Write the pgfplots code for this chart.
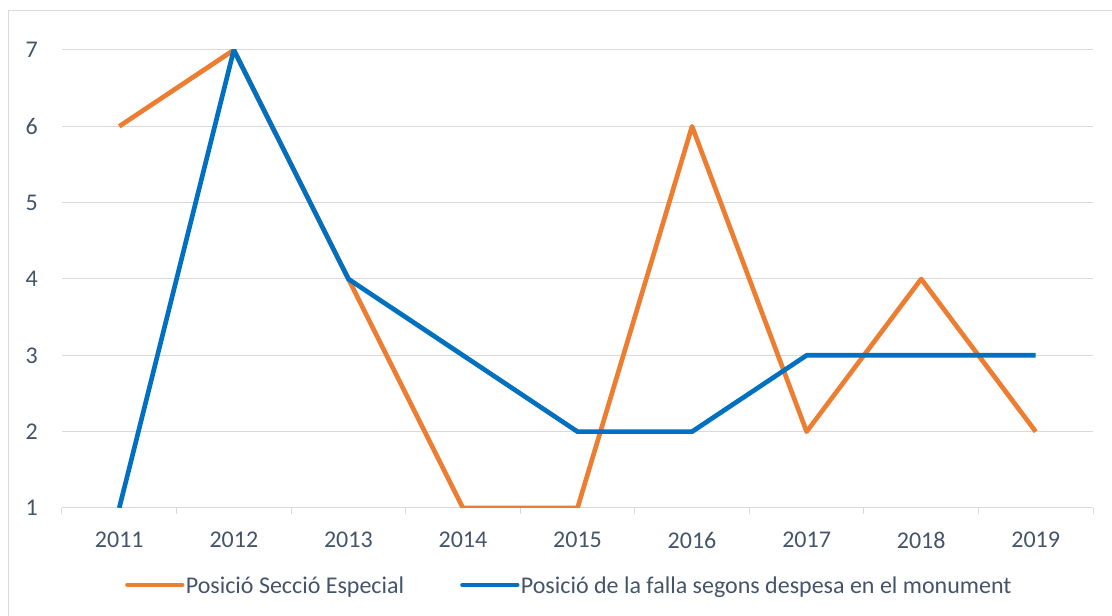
\documentclass[border=0pt]{standalone}
\usepackage{pgfplots}
\pgfplotsset{compat=1.18}
\usepackage{fontspec}
\setmainfont{Carlito}
\definecolor{serieOrange}{HTML}{ED7D31}
\definecolor{serieBlue}{HTML}{0070C0}
\definecolor{gridGray}{HTML}{D9D9D9}
\definecolor{textSlate}{HTML}{44546A}

\begin{document}
\begin{tikzpicture}[x=0.75pt,y=0.75pt]
% page = 1112 x 616 px, axis box lower left at px (62,508)
\useasboundingbox (-62,-108) rectangle (1050,508);
% outer chart frame
\draw[gridGray, line width=0.75pt] (-53,-120) -- (-53,497) -- (1060,497);
\begin{axis}[
    at={(0,0)}, anchor=south west,
    scale only axis,
    width=773.25pt,
    height=343.5pt,
    xmin=-0.5, xmax=8.5,
    ymin=1, ymax=7,
    xtick={0,...,8},
    xticklabels={2011,2012,2013,2014,2015,2016,2017,2018,2019},
    minor xtick={-0.5,0.5,...,8.5},
    ytick={1,...,7},
    axis x line*=bottom,
    axis y line*=left,
    y axis line style={draw=none},
    x axis line style={gridGray, line width=0.75pt},
    major tick length=0pt,
    minor tick length=4.5pt,
    tick align=outside,
    minor tick style={gridGray, line width=0.75pt},
    ymajorgrids,
    grid style={gridGray, line width=0.75pt},
    /pgf/number format/assume math mode=true,
    tick label style={font=\fontsize{18}{21}\selectfont, text=textSlate},
    xticklabel style={anchor=north, inner sep=0pt, yshift=-18pt},
    yticklabel style={anchor=east, inner sep=0pt, xshift=-18pt},
    legend columns=2,
    legend style={
        at={(0.061,-0.168)}, anchor=west,
        draw=none, fill=none, inner sep=0pt,
        font=\fontsize{18}{21}\selectfont, text=textSlate,
        /tikz/every even column/.append style={column sep=42pt},
        nodes={inner sep=0pt, text depth=0pt},
    },
    legend cell align=left,
    legend image code/.code={\draw[#1, line cap=round] (0pt,0pt) -- (41pt,0pt);},
]
\addplot[serieOrange, line width=3.5pt, line join=round] coordinates {
    (0,6) (1,7) (2,4) (3,1) (4,1) (5,6) (6,2) (7,4) (8,2)
};
\addplot[serieBlue, line width=3.5pt, line join=round] coordinates {
    (0,1) (1,7) (2,4) (3,3) (4,2) (5,2) (6,3) (7,3) (8,3)
};
\legend{\hspace{1pt}Posició Secció Especial, \hspace{1pt}Posició de la falla segons despesa en el monument}
\end{axis}
\end{tikzpicture}
\end{document}
